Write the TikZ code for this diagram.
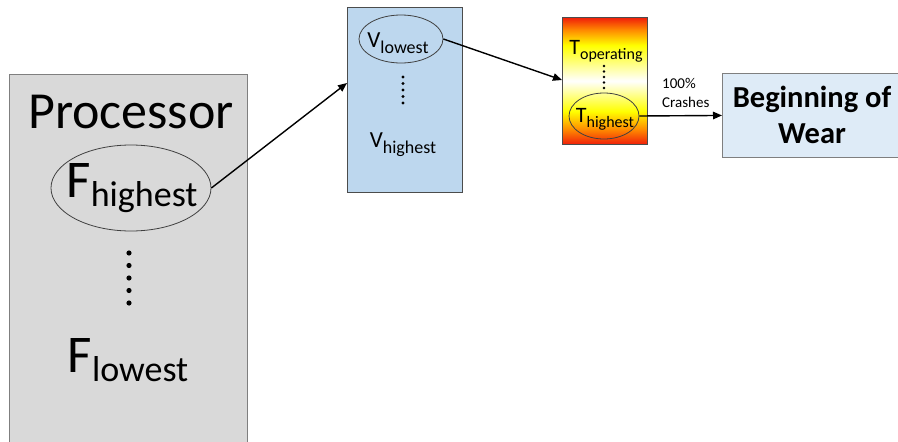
\documentclass[tikz,border=0pt]{standalone}
\usepackage{fontspec}
\setmainfont{Carlito}
\usetikzlibrary{arrows.meta,shapes.geometric}
\definecolor{procgray}{HTML}{D9D9D9}
\definecolor{edgegray}{HTML}{7F7F7F}
\definecolor{voltblue}{HTML}{BDD7EE}
\definecolor{wearblue}{HTML}{DEEBF7}
\definecolor{hotred}{HTML}{F01E0A}
\definecolor{hotorange}{HTML}{FF8C00}
% red - yellow - white - yellow - red, bottom to top
\pgfdeclareverticalshading{heatbar}{100bp}{color(0bp)=(hotred); color(25bp)=(hotred); color(31bp)=(hotorange); color(38bp)=(yellow); color(50bp)=(white); color(64bp)=(yellow); color(70bp)=(hotorange); color(75bp)=(hotred); color(100bp)=(hotred)}
% big letter followed by a lowered, smaller word
\newcommand\subscripted[5]{{\fontsize{#1}{#1}\selectfont #4}\raisebox{-#3}{\fontsize{#2}{#2}\selectfont #5}}
\begin{document}
\begin{tikzpicture}[x=1pt,y=-1pt,
  panel/.style={rectangle, inner sep=0pt, anchor=north west, line width=0.9pt},
  oval/.style={ellipse, inner sep=0pt, draw=black!75, line width=0.8pt},
  label/.style={inner sep=0pt, anchor=base},
  flow/.style={line width=1.4pt, -{Triangle[length=9pt,width=7.5pt]}}]
\useasboundingbox (0,0) rectangle (898,442);

% boxes (the processor and wear boxes run past the page edge)
\begin{scope}
  \clip (0,0) rectangle (898,442);
  \node[panel, fill=procgray, draw=edgegray, minimum width=238pt, minimum height=390pt] (proc) at (9,74) {};
  \node[panel, fill=wearblue, draw=edgegray, minimum width=200pt, minimum height=84pt] (bow) at (722,73) {};
\end{scope}
\node[panel, fill=voltblue, draw=black!70, minimum width=115pt, minimum height=185pt] (vbox) at (347,7) {};
\node[panel, shading=heatbar, draw=black!70, minimum width=85pt, minimum height=127pt] (tbox) at (562,17) {};

% processor frequencies
\node[label] (proctxt) at (131,128) {\fontsize{52}{52}\selectfont Processor};
\node[oval, minimum width=160pt, minimum height=86pt] (fhi) at (131,188) {};
\node[label] (fhitxt) at (132,197) {\subscripted{53pt}{36pt}{9pt}{F}{highest}};
\foreach \k in {0,...,4} \fill (129,253+12.5*\k) circle (2.6pt);
\node[label] (flotxt) at (128,372) {\subscripted{53pt}{36pt}{9pt}{F}{lowest}};

% voltages
\node[oval, minimum width=84pt, minimum height=48pt] (vlo) at (401,39) {};
\node[label] (vlotxt) at (398,47) {\subscripted{23pt}{18pt}{6pt}{V}{lowest}};
\foreach \k in {0,...,4} \fill (403,77+6.5*\k) circle (1.6pt);
\node[label] (vhitxt) at (403,147) {\subscripted{23pt}{18pt}{6pt}{V}{highest}};

% temperatures
\node[label] (topertxt) at (606,54) {\subscripted{22pt}{16pt}{5pt}{T}{operating}};
\foreach \k in {0,...,4} \fill (604,66+5.5*\k) circle (1.3pt);
\node[oval, minimum width=70pt, minimum height=46pt] (thi) at (604,116) {};
\node[label] (thitxt) at (605,122) {\subscripted{22pt}{16pt}{5pt}{T}{highest}};

% outcome
\node[align=center, inner sep=0pt, font=\fontsize{30.5}{36}\selectfont\bfseries] (bowtxt) at (812,115) {Beginning of\\Wear};
\node[align=left, inner sep=0pt, anchor=base west, font=\fontsize{15}{19}\selectfont] (crash) at (662,107) {100\%\\Crashes};

% connectors
\coordinate (vin) at (347,83);
\coordinate (tin) at (562,80);
\draw[flow] (fhi.east) -- (vin);
\draw[flow] (vlo.east) -- (tin);
\draw[flow] (thi.east) -- (bow.west);
\end{tikzpicture}
\end{document}
